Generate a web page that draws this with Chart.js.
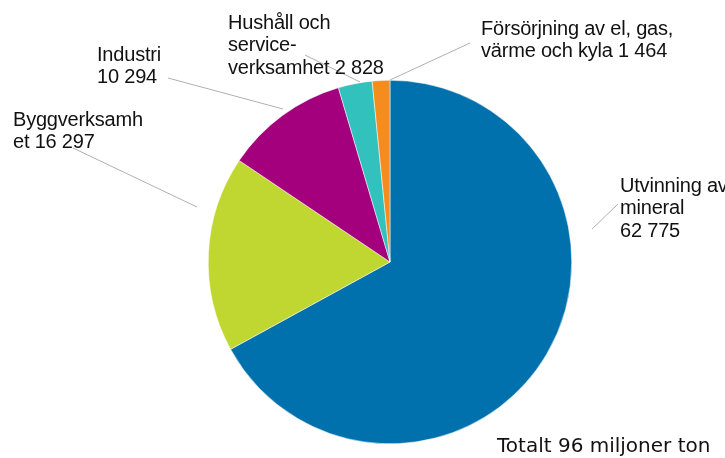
<!DOCTYPE html>
<html>
<head>
<meta charset="utf-8">
<script src="https://cdn.jsdelivr.net/npm/chart.js@4.4.1/dist/chart.umd.min.js"></script>
<style>
html,body{margin:0;padding:0;background:#fff;}
#wrap{width:725px;height:458px;position:relative;}
</style>
</head>
<body>
<div id="wrap"><canvas id="c" width="725" height="458"></canvas></div>
<script>
// Data
const categories = [
  "Utvinning av mineral",
  "Byggverksamhet",
  "Industri",
  "Hushåll och serviceverksamhet",
  "Försörjning av el, gas, värme och kyla"
];
const values = [62775, 16297, 10294, 2828, 1464];
const labelLines = [
  ["Utvinning av", "mineral", "62 775"],
  ["Byggverksamh", "et 16 297"],
  ["Industri", "10 294"],
  ["Hushåll och", "service-", "verksamhet 2 828"],
  ["Försörjning av el, gas,", "värme och kyla 1 464"]
];
const totalText = "Totalt 96 miljoner ton";
const colors = ["#0071AD", "#C0D631", "#A4007E", "#33C1BE", "#F58D1E"];

// Annotation layout (offsets from pie centre, px)
const labelLayout = [
  {line:[202,-33,228,-58], tx:230, ty:-76},
  {line:[-193,-55,-317,-114], tx:-377, ty:-142},
  {line:[-107,-153,-222,-184], tx:-293, ty:-207},
  {line:[-30,-180,-85,-207], tx:-162, ty:-239},
  {line:[0,-182,80,-219], tx:91, ty:-233}
];
const lineHeight = 22.5;

const labelPlugin = {
  id: 'pieLabels',
  afterDraw(chart) {
    const ctx = chart.ctx;
    const arc = chart.getDatasetMeta(0).data[0];
    const cx = arc.x, cy = arc.y;
    ctx.save();
    ctx.strokeStyle = '#B0B0B0';
    ctx.lineWidth = 1;
    labelLayout.forEach((L, i) => {
      ctx.beginPath();
      ctx.moveTo(cx + L.line[0], cy + L.line[1]);
      ctx.lineTo(cx + L.line[2], cy + L.line[3]);
      ctx.stroke();
    });
    ctx.fillStyle = '#111111';
    ctx.textBaseline = 'middle';
    ctx.textAlign = 'left';
    ctx.font = '20px "Liberation Sans", Arial, sans-serif';
    try { ctx.letterSpacing = '-0.2px'; } catch(e) {}
    labelLayout.forEach((L, i) => {
      labelLines[i].forEach((t, j) => {
        ctx.fillText(t, cx + L.tx, cy + L.ty + j * lineHeight);
      });
    });
    ctx.font = '20px "DejaVu Sans", sans-serif';
    try { ctx.letterSpacing = '0px'; } catch(e) {}
    ctx.fillText(totalText, cx + 107, cy + 185);
    ctx.restore();
  }
};

new Chart(document.getElementById('c'), {
  type: 'pie',
  data: {
    labels: categories,
    datasets: [{
      data: values,
      backgroundColor: colors,
      borderColor: '#ffffff',
      borderWidth: 0.5
    }]
  },
  options: {
    responsive: false,
    animation: false,
    layout: { padding: { left: 208, right: 153, top: 80, bottom: 14 } },
    plugins: {
      legend: { display: false },
      tooltip: { enabled: false }
    }
  },
  plugins: [labelPlugin]
});
</script>
</body>
</html>
